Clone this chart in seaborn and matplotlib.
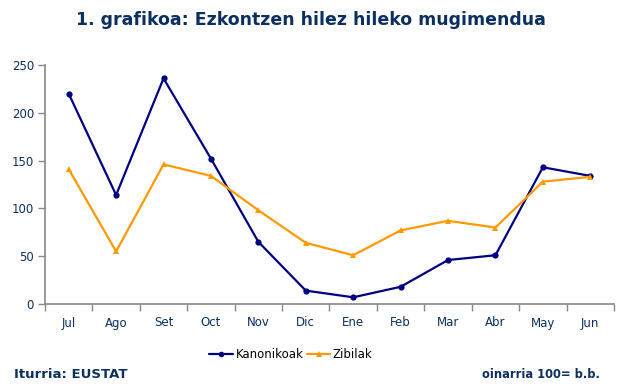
import matplotlib
matplotlib.use("Agg")
import matplotlib.pyplot as plt
import seaborn as sns
import pandas as pd
from matplotlib.ticker import FixedLocator, NullFormatter
from matplotlib.lines import Line2D

months = ["Jul", "Ago", "Set", "Oct", "Nov", "Dic", "Ene", "Feb", "Mar", "Abr", "May", "Jun"]
kanonikoak = [220, 114, 236, 152, 65, 14, 7, 18, 46, 51, 143, 134]
zibilak = [141, 55, 146, 134, 98, 64, 51, 77, 87, 80, 128, 133]
series_names = ["Kanonikoak", "Zibilak"]
y_ticks = [0, 50, 100, 150, 200, 250]

title = "1. grafikoa: Ezkontzen hilez hileko mugimendua"
source = "Iturria: EUSTAT"
note = "oinarria 100= b.b."

navy_text = "#0B2F5E"
sns.set_theme(style="white")
plt.rcParams["font.family"] = ["DejaVu Sans"]

df = pd.DataFrame({
    "mes": months * 2,
    "pos": list(range(len(months))) * 2,
    "valor": kanonikoak + zibilak,
    "serie": [series_names[0]] * len(months) + [series_names[1]] * len(months),
})

fig = plt.figure(figsize=(6.42, 3.91), dpi=100)
ax = fig.add_axes([45 / 642, 1 - 304 / 391, (614 - 45) / 642, (304 - 65) / 391])

sns.lineplot(
    data=df, x="pos", y="valor", hue="serie", style="serie",
    palette={"Kanonikoak": "#000080", "Zibilak": "#FF9900"},
    markers={"Kanonikoak": "o", "Zibilak": "^"},
    dashes=False, markersize=4.5, markeredgewidth=0, linewidth=1.6,
    ax=ax, sort=False, legend=False,
)

ax.set_xlim(-0.5, len(months) - 0.5)
ax.set_ylim(0, 250)
ax.set_xlabel("")
ax.set_ylabel("")

ax.xaxis.set_major_locator(FixedLocator([i - 0.5 for i in range(len(months) + 1)]))
ax.xaxis.set_major_formatter(NullFormatter())
ax.xaxis.set_minor_locator(FixedLocator(list(range(len(months)))))
ax.set_xticklabels(months, minor=True)
ax.tick_params(axis="x", which="major", direction="out", length=5, width=1, color="#888888", bottom=True)
ax.tick_params(axis="x", which="minor", length=0, pad=9, labelsize=8.5, labelcolor=navy_text, bottom=True)

ax.set_yticks(y_ticks)
ax.set_yticklabels([str(v) for v in y_ticks])
ax.tick_params(axis="y", direction="out", length=5, width=1, color="#888888", left=True,
               labelsize=8.5, labelcolor=navy_text, pad=3)

for s in ["top", "right"]:
    ax.spines[s].set_visible(False)
for s in ["left", "bottom"]:
    ax.spines[s].set_color("#888888")
    ax.spines[s].set_linewidth(1.2)

fig.text(311 / 642, 1 - 20 / 391, title, ha="center", va="center",
         fontsize=12.5, fontweight="bold", color=navy_text)

handles = [
    Line2D([], [], color="#000080", marker="o", markersize=4, markeredgewidth=0, linewidth=1.6),
    Line2D([], [], color="#FF9900", marker="^", markersize=4, markeredgewidth=0, linewidth=1.6),
]
leg = fig.legend(handles, series_names, loc="center", bbox_to_anchor=(291 / 642, 1 - 355 / 391),
                 ncol=2, frameon=False, fontsize=8.5, handlelength=2.0, handletextpad=0.2,
                 columnspacing=0.3)
for t in leg.get_texts():
    t.set_color("black")

fig.text(14 / 642, 1 - 374 / 391, source, ha="left", va="center",
         fontsize=9.5, fontweight="bold", color=navy_text)
fig.text(600 / 642, 1 - 374 / 391, note, ha="right", va="center",
         fontsize=8.3, fontweight="bold", color=navy_text)

fig.savefig("out.png", dpi=100)
